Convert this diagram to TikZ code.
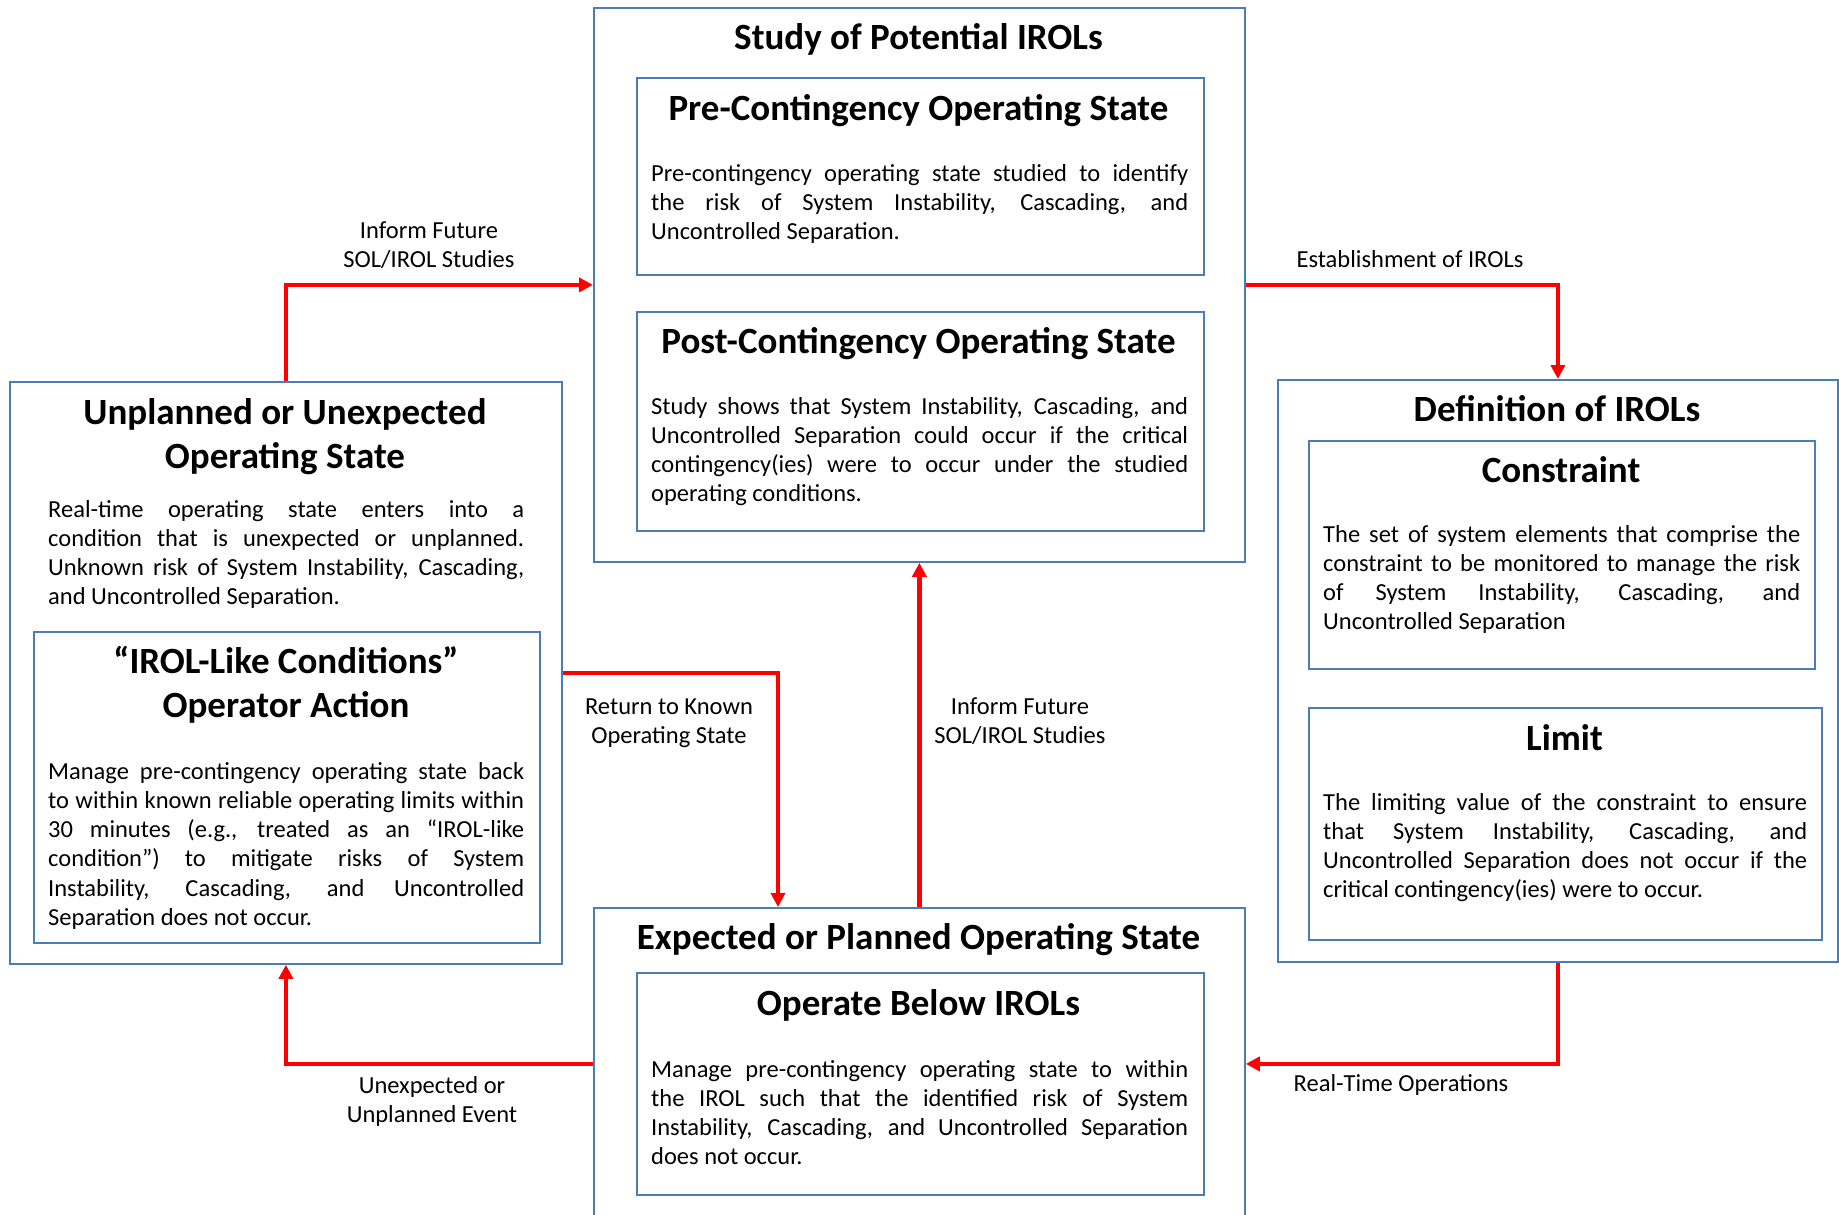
\documentclass[tikz,border=0pt]{standalone}
\usepackage{fontspec}
\setmainfont{Carlito}
\usetikzlibrary{arrows.meta}
\definecolor{boxblue}{HTML}{4A7EBB}
\definecolor{arrred}{HTML}{FF0000}
\newcommand{\bodyf}{\fontsize{24.5}{29.3}\selectfont}
\newcommand{\headf}{\fontsize{37}{44.6}\selectfont\bfseries}
\newcommand{\jpar}[2]{\parbox[t]{#1}{\bodyf\tolerance=10000\hyphenpenalty=10000\emergencystretch=30pt #2}}
\newcommand{\cpar}[2]{\parbox[t]{#1}{\centering #2}}
\tikzset{
  box/.style={draw=boxblue, line width=1.8pt, inner sep=0, anchor=north west},
  arr/.style={draw=arrred, line width=4.2pt, -{Triangle[length=14pt,width=14pt]}},
  head/.style={inner sep=0, anchor=base, font=\headf},
  txt/.style={inner sep=0, anchor=base west},
  lbl/.style={inner sep=0, anchor=base},
}
\begin{document}
\begin{tikzpicture}[x=1pt,y=-1pt]
\useasboundingbox (0,0) rectangle (1839,1215);
\clip (0,0) rectangle (1839,1215);
% boxes
\node[box, minimum width=651pt, minimum height=554pt] (study) at (593,7) {};
\node[box, minimum width=567pt, minimum height=197pt] (pre) at (636,77) {};
\node[box, minimum width=567pt, minimum height=219pt] (post) at (636,311) {};
\node[box, minimum width=552pt, minimum height=582pt] (unpl) at (9,381) {};
\node[box, minimum width=506pt, minimum height=311pt] (irol) at (33,631) {};
\node[box, minimum width=560pt, minimum height=582pt] (defn) at (1277,379) {};
\node[box, minimum width=506pt, minimum height=228pt] (cons) at (1308,440) {};
\node[box, minimum width=513pt, minimum height=232pt] (limit) at (1308,707) {};
\node[box, minimum width=651pt, minimum height=312pt] (expd) at (593,907) {};
\node[box, minimum width=567pt, minimum height=222pt] (oper) at (636,972) {};
% headings
\node[head] (hstudy) at (918.5,49) {Study of Potential IROLs};
\node[head] (hpre) at (918.5,120) {Pre-Contingency Operating State};
\node[head] (hpost) at (918.5,353) {Post-Contingency Operating State};
\node[lbl] (hunpl) at (285,424) {\cpar{540pt}{\headf Unplanned or Unexpected\\Operating State}};
\node[lbl] (hirol) at (286,673) {\cpar{500pt}{\headf ``IROL-Like Conditions''\\Operator Action}};
\node[head] (hdefn) at (1557,421) {Definition of IROLs};
\node[head] (hcons) at (1561,482) {Constraint};
\node[head] (hlimit) at (1564.5,750) {Limit};
\node[head] (hexpd) at (918.5,949) {Expected or Planned Operating State};
\node[head] (hoper) at (918.5,1015) {Operate Below IROLs};
% body texts
\node[txt] (tpre) at (651,181) {\jpar{537pt}{Pre-contingency operating state studied to identify\linebreak the risk of System Instability, Cascading, and\linebreak Uncontrolled Separation.}};
\node[txt] (tpost) at (651,414) {\jpar{537pt}{Study shows that System Instability, Cascading, and\linebreak Uncontrolled Separation could occur if the critical\linebreak contingency(ies) were to occur under the studied\linebreak operating conditions.}};
\node[txt] (tunpl) at (48,517) {\jpar{476pt}{Real-time operating state enters into a\linebreak condition that is unexpected or unplanned.\linebreak Unknown risk of System Instability, Cascading,\linebreak and Uncontrolled Separation.}};
\node[txt] (tirol) at (48,779) {\jpar{476pt}{Manage pre-contingency operating state back\linebreak to within known reliable operating limits within\linebreak 30 minutes (e.g., treated as an ``IROL-like\linebreak condition'') to mitigate risks of System\linebreak Instability, Cascading, and Uncontrolled\linebreak Separation does not occur.}};
\node[txt] (tcons) at (1323,542) {\jpar{477pt}{The set of system elements that comprise the\linebreak constraint to be monitored to manage the risk\linebreak of System Instability, Cascading, and\linebreak Uncontrolled Separation}};
\node[txt] (tlimit) at (1323,810) {\jpar{484pt}{The limiting value of the constraint to ensure\linebreak that System Instability, Cascading, and\linebreak Uncontrolled Separation does not occur if the\linebreak critical contingency(ies) were to occur.}};
\node[txt] (toper) at (651,1077) {\jpar{537pt}{Manage pre-contingency operating state to within\linebreak the IROL such that the identified risk of System\linebreak Instability, Cascading, and Uncontrolled Separation\linebreak does not occur.}};
% connectors
\coordinate (retend) at ([xshift=185pt]expd.north west);
\draw[arr] (unpl.north) |- (study.west);
\draw[arr] (study.east) -| (defn.north);
\draw[arr] (unpl.east) -| (retend);
\draw[arr] (expd.north) -- (study.south);
\draw[arr] (expd.west) -| (unpl.south);
\draw[arr] (defn.south) |- (expd.east);
% connector labels
\node[lbl] (l1) at (429,238) {\cpar{300pt}{\bodyf Inform Future\\SOL/IROL Studies}};
\node[lbl] (l2) at (1410,267) {\bodyf Establishment of IROLs};
\node[lbl] (l3) at (669,714) {\cpar{300pt}{\bodyf Return to Known\\Operating State}};
\node[lbl] (l4) at (1020,714) {\cpar{300pt}{\bodyf Inform Future\\SOL/IROL Studies}};
\node[lbl] (l5) at (432,1093) {\cpar{300pt}{\bodyf Unexpected or\\Unplanned Event}};
\node[lbl] (l6) at (1401,1091) {\bodyf Real-Time Operations};
\end{tikzpicture}
\end{document}
